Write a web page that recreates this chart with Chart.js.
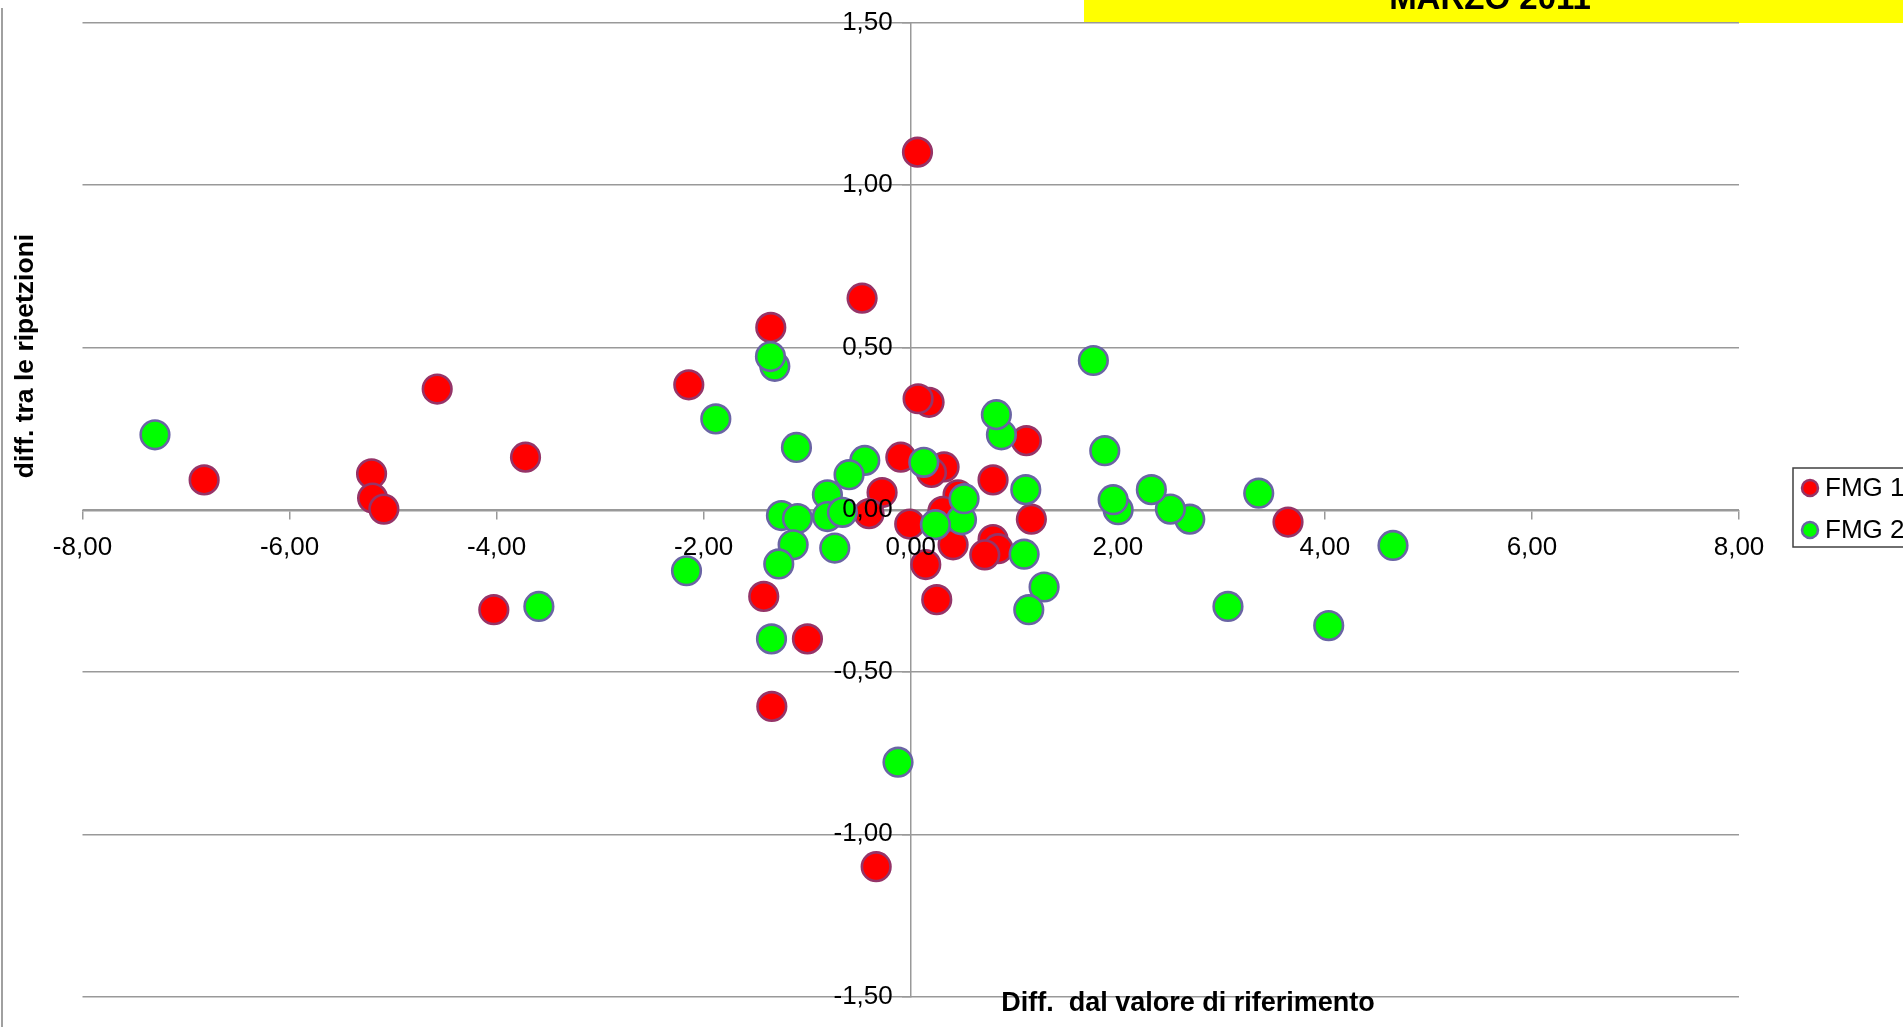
<!DOCTYPE html>
<html>
<head>
<meta charset="utf-8">
<script src="https://cdn.jsdelivr.net/npm/chart.js@4.4.0/dist/chart.umd.min.js"></script>
<style>
html,body{margin:0;padding:0;background:#ffffff;overflow:hidden}
#wrap{position:relative;width:1903px;height:1027px}
</style>
</head>
<body>
<div id="wrap"><canvas id="c"></canvas></div>
<script>
// ---- data ----
const seriesLabels = ['FMG 1', 'FMG 2'];
const fmg1X = [0.065, -0.47, -1.352, -2.144, -4.574, -3.721, -6.825, -5.208, -5.198, -5.089,
               -4.027, -1.42, -0.998, -1.342, -0.334, 0.177, 0.071, 1.117, -0.096, 0.322,
               0.20, 0.795, -0.277, -0.403, -0.01, 0.457, 0.31, 0.409, 0.795, 0.843,
               0.715, 0.145, 0.251, 1.165, 3.644];
const fmg1Y = [1.102, 0.652, 0.562, 0.385, 0.372, 0.162, 0.092, 0.111, 0.036, 0.002,
               -0.308, -0.267, -0.398, -0.606, -1.10, 0.331, 0.342, 0.213, 0.162, 0.132,
               0.115, 0.092, 0.053, -0.012, -0.044, 0.046, -0.005, -0.108, -0.092, -0.12,
               -0.139, -0.169, -0.277, -0.029, -0.038];
const fmg2X = [-7.30, -1.883, -1.313, -1.355, 1.764, -2.166, -3.592, -0.123, -1.345, 4.658,
               4.037, 3.064, 3.361, 2.695, 2.508, 2.324, 1.874, 2.003, 1.955, 1.111,
               0.876, 0.827, 1.095, 1.288, 1.14, 0.49, 0.515, 0.238, 0.126, -0.444,
               -0.596, -1.104, -0.805, -0.805, -0.66, -1.249, -1.094, -1.136, -0.734, -1.275];
const fmg2Y = [0.231, 0.280, 0.442, 0.472, 0.460, -0.188, -0.298, -0.778, -0.398, -0.11,
               -0.357, -0.298, 0.051, -0.029, 0.002, 0.062, 0.182, 0.0, 0.031, 0.062,
               0.231, 0.293, -0.137, -0.238, -0.308, -0.031, 0.034, -0.046, 0.146, 0.152,
               0.108, 0.192, 0.046, -0.021, -0.008, -0.018, -0.027, -0.108, -0.118, -0.167];
const xMin = -8, xMax = 8, xStep = 2;
const yMin = -1.5, yMax = 1.5, yStep = 0.5;
const chartTitle = 'MARZO 2011';
const xTitle = 'Diff.  dal valore di riferimento';
const yTitle = 'diff. tra le ripetzioni';

const FONT = "'Liberation Sans', Arial, Helvetica, sans-serif";
const seriesFill = ['#ff0000', '#00ff00'];
const seriesBorder = ['#953468', '#6a64a4'];

function toPoints(xs, ys) { return xs.map((x, i) => ({x: x, y: ys[i]})); }
function fmt(v) { if (Math.abs(v) < 1e-9) v = 0; return v.toFixed(2).replace('.', ','); }

const decorPlugin = {
  id: 'decor',
  beforeDraw(chart) {
    const ctx = chart.ctx;
    ctx.save();
    // left frame line
    ctx.strokeStyle = '#a0a0a0';
    ctx.lineWidth = 2;
    ctx.beginPath(); ctx.moveTo(2, 8); ctx.lineTo(2, 1027); ctx.stroke();
    // yellow title band (cut off at the top)
    ctx.fillStyle = '#ffff00';
    ctx.fillRect(1084, 0, 819, 23);
    ctx.fillStyle = '#000000';
    ctx.font = "bold 33px " + FONT;
    ctx.textAlign = 'center';
    ctx.textBaseline = 'alphabetic';
    ctx.fillText(chartTitle, 1490, 9);
    ctx.restore();
  },
  afterDraw(chart) {
    const ctx = chart.ctx;
    ctx.save();
    // axis titles
    ctx.fillStyle = '#000000';
    ctx.font = "bold 27px " + FONT;
    ctx.textAlign = 'center';
    ctx.textBaseline = 'alphabetic';
    ctx.fillText(xTitle, 1188, 1011);
    ctx.translate(26, 356);
    ctx.rotate(-Math.PI / 2);
    ctx.font = "bold 26.5px " + FONT;
    ctx.textBaseline = 'middle';
    ctx.fillText(yTitle, 0, 0);
    ctx.restore();

    // legend
    ctx.save();
    ctx.strokeStyle = '#404040';
    ctx.lineWidth = 1.5;
    ctx.strokeRect(1793, 468, 140, 79);
    const rows = [488, 530];
    chart.data.datasets.forEach((ds, i) => {
      ctx.beginPath();
      ctx.arc(1810, rows[i], 8, 0, Math.PI * 2);
      ctx.fillStyle = ds.backgroundColor;
      ctx.fill();
      ctx.lineWidth = 2.5;
      ctx.strokeStyle = ds.borderColor;
      ctx.stroke();
      ctx.fillStyle = '#000000';
      ctx.font = "26px " + FONT;
      ctx.textAlign = 'left';
      ctx.textBaseline = 'middle';
      ctx.fillText(ds.label, 1825, rows[i] + 1);
    });
    ctx.restore();
  }
};

new Chart(document.getElementById('c'), {
  type: 'scatter',
  data: {
    datasets: [
      { label: seriesLabels[0], data: toPoints(fmg1X, fmg1Y), order: 1,
        backgroundColor: seriesFill[0], borderColor: seriesBorder[0],
        pointRadius: 14.3, pointHoverRadius: 14.3, borderWidth: 2.6, pointBorderWidth: 2.6 },
      { label: seriesLabels[1], data: toPoints(fmg2X, fmg2Y), order: 0,
        backgroundColor: seriesFill[1], borderColor: seriesBorder[1],
        pointRadius: 14.3, pointHoverRadius: 14.3, borderWidth: 2.6, pointBorderWidth: 2.6 }
    ]
  },
  options: {
    responsive: true,
    maintainAspectRatio: false,
    animation: false,
    events: [],
    layout: { padding: { left: 82.5, right: 164, top: 23, bottom: 30.5 } },
    plugins: { legend: { display: false }, tooltip: { enabled: false }, title: { display: false } },
    scales: {
      x: {
        type: 'linear', position: 'center', min: xMin, max: xMax,
        afterFit(s) { s.height = 0; s.paddingLeft = 0; s.paddingRight = 0; s.paddingTop = 0; s.paddingBottom = 0; },
        grid: { drawOnChartArea: false, drawTicks: true, tickLength: 8, color: '#999999', lineWidth: 1.5 },
        border: { display: true, color: '#999999', width: 1.5 },
        ticks: { stepSize: xStep, autoSkip: false, maxRotation: 0, padding: 14, z: 1,
                 color: '#000000', font: { family: FONT, size: 26 }, callback: (v) => fmt(v) }
      },
      y: {
        type: 'linear', position: 'center', min: yMin, max: yMax,
        afterFit(s) { s.width = 0; s.paddingTop = 0; s.paddingBottom = 0; s.paddingLeft = 0; s.paddingRight = 0; },
        grid: { drawOnChartArea: true, drawTicks: true, tickLength: 8, color: '#999999', lineWidth: 1.5 },
        border: { display: true, color: '#999999', width: 1.5 },
        ticks: { stepSize: yStep, autoSkip: false, padding: 10, z: 1,
                 color: '#000000', font: { family: FONT, size: 26 }, callback: (v) => fmt(v) }
      }
    }
  },
  plugins: [decorPlugin]
});
</script>
</body>
</html>
